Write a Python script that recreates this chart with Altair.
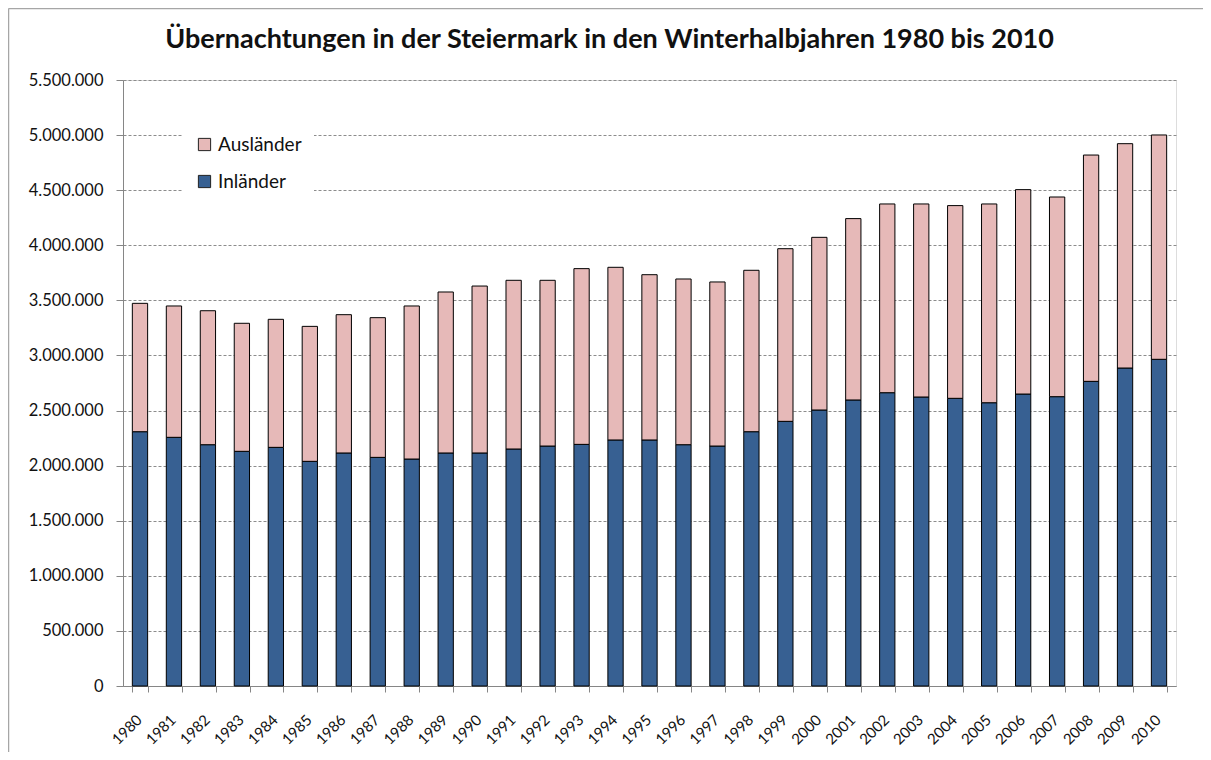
import altair as alt
import pandas as pd

years = [str(y) for y in range(1980, 2011)]
inlaender = [2308000, 2257000, 2190000, 2130000, 2166000, 2039000, 2115000, 2075000,
             2060000, 2115000, 2115000, 2151000, 2178000, 2193000, 2233000, 2233000,
             2190000, 2178000, 2308000, 2402000, 2505000, 2596000, 2662000, 2623000,
             2611000, 2571000, 2650000, 2626000, 2765000, 2886000, 2965000]
auslaender = [1165000, 1192000, 1216000, 1162000, 1162000, 1225000, 1255000, 1268000,
              1389000, 1461000, 1515000, 1531000, 1504000, 1595000, 1567000, 1500000,
              1504000, 1489000, 1465000, 1567000, 1567000, 1646000, 1713000, 1752000,
              1749000, 1804000, 1855000, 1812000, 2054000, 2036000, 2036000]
series = ["Ausländer", "Inländer"]
colors = ["#E6B9B8", "#376092"]
y_ticks = list(range(0, 5500001, 500000))

rows = []
for i, yr in enumerate(years):
    rows.append({"Jahr": yr, "Gruppe": "Inländer", "Wert": inlaender[i], "ord": 0})
    rows.append({"Jahr": yr, "Gruppe": "Ausländer", "Wert": auslaender[i], "ord": 1})
df = pd.DataFrame(rows)

FONT = "Lato"

bars = alt.Chart(df).mark_bar(stroke="black", strokeWidth=1).encode(
    x=alt.X("Jahr:N", title=None, sort=years,
            scale=alt.Scale(paddingInner=0.55, paddingOuter=0.275),
            axis=alt.Axis(labelAngle=-45, tickBand="extent", tickSize=6,
                          tickColor="#868686", domainColor="#868686",
                          labelFontSize=15, labelColor="#111", labelPadding=20,
                          labelOffset=-6, labelFont=FONT, grid=False)),
    y=alt.Y("Wert:Q", title=None, stack="zero",
            scale=alt.Scale(domain=[0, 5500000], nice=False),
            axis=alt.Axis(values=y_ticks, tickSize=7, tickColor="#868686",
                          domainColor="#868686", labelFontSize=16.5, labelColor="#111",
                          labelFont=FONT, labelPadding=13,
                          labelExpr="replace(format(datum.value, ','), regexp(',', 'g'), '.')",
                          grid=True, gridColor="#8c8c8c", gridDash=[3, 2], gridWidth=1)),
    color=alt.Color("Gruppe:N", title=None,
                    scale=alt.Scale(domain=series, range=colors),
                    legend=alt.Legend(orient="none", legendX=60, legendY=43,
                                      fillColor="white", padding=12,
                                      symbolType="square", symbolSize=150,
                                      symbolStrokeColor="#222", symbolStrokeWidth=1,
                                      labelFontSize=19, labelFont=FONT, labelColor="#111",
                                      rowPadding=17, labelOffset=4)),
    order=alt.Order("ord:Q"),
)

one = pd.DataFrame({"f": [0]})
frame_top = alt.Chart(one).mark_rule(stroke="#a6a6a6", strokeWidth=1.5, clip=False).encode(
    x=alt.value(-114.5), x2=alt.value(1080), y=alt.value(-71.5)
)
frame_left = alt.Chart(one).mark_rule(stroke="#a6a6a6", strokeWidth=1.5, clip=False).encode(
    x=alt.value(-114.5), y=alt.value(-71.5), y2=alt.value(672)
)

chart = alt.layer(frame_top, frame_left, bars).properties(
    width=1053,
    height=606,
    title=alt.TitleParams(
        "Übernachtungen in der Steiermark in den Winterhalbjahren 1980 bis 2010",
        font=FONT, fontSize=27, fontWeight="bold", color="#111",
        anchor="middle", dx=-40, offset=-46),
    autosize=alt.AutoSizeParams(type="none"),
    padding={"left": 115, "top": 72, "right": 27, "bottom": 66},
).configure_view(stroke=None).configure(background="white")

chart.save("out.html", embed_options={"renderer": "svg", "actions": False})
